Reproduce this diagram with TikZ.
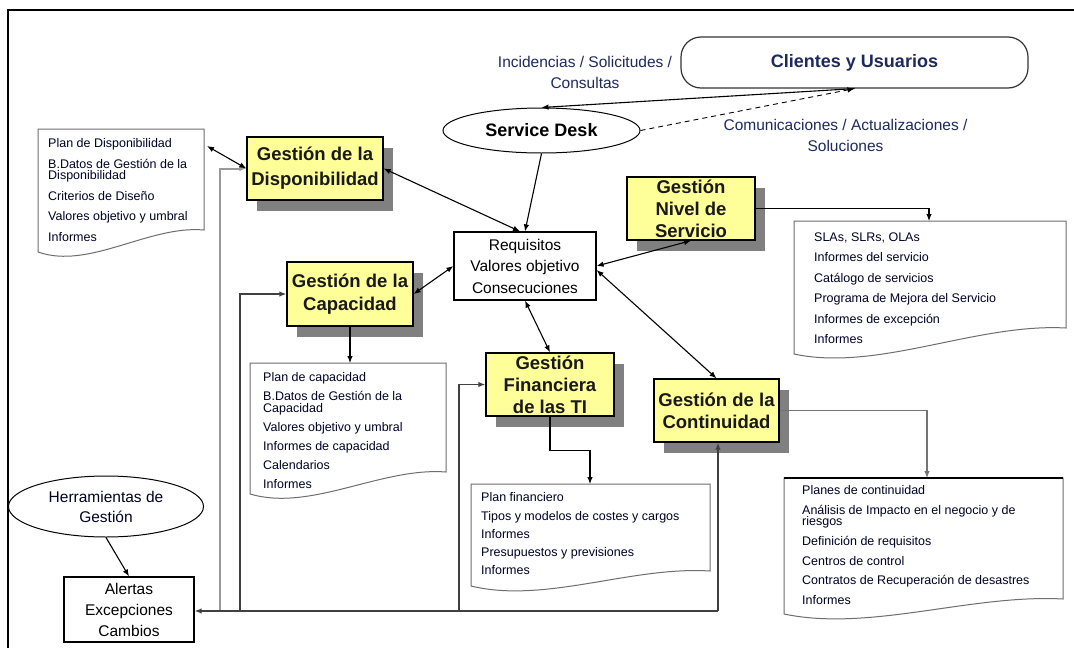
\documentclass[tikz,border=0pt]{standalone}
\usepackage{fontspec}
\setmainfont{Liberation Sans}
\usetikzlibrary{arrows.meta,shapes.geometric,shadows}

\definecolor{boxyellow}{HTML}{FFFF99}
\definecolor{shadowgray}{HTML}{808080}
\definecolor{inknavy}{HTML}{1E2A5E}
\definecolor{docgray}{HTML}{6E6E6E}

\newcommand\gestfont{\fontsize{18.5}{22}\selectfont\bfseries}
\newcommand\lblfont{\fontsize{15.5}{21}\selectfont}
\newcommand\listfont[1]{\fontsize{12.5}{#1}\selectfont\lineskiplimit=-40pt\relax}

\begin{document}
\begin{tikzpicture}[x=1pt,y=-1pt,
  >={Latex[length=7pt,width=5.5pt]},
  gbox/.style={draw=black, line width=1.3pt, fill=boxyellow, font=\gestfont,
    align=center, inner sep=0pt, text=black!90,
    drop shadow={shadow xshift=10pt,shadow yshift=-11pt,fill=shadowgray,opacity=1}},
  wbox/.style={draw=black, line width=1.2pt, fill=white, font=\lblfont,
    align=center, inner sep=0pt},
  oval/.style={ellipse, draw=black, line width=1pt, fill=white, inner sep=0pt, align=center},
  docshape/.style={draw=docgray, line width=1pt, fill=white},
  doctext/.style={anchor=north west, align=left, inner sep=0pt, text=black!85!blue},
  conn/.style={line width=1.1pt},
  bus/.style={line width=1.4pt, draw=black!75},
  lbl/.style={font=\lblfont, align=center, text=inknavy, inner sep=0pt}]

\useasboundingbox (0,0) rectangle (1074,648);
\fill[white] (0,0) rectangle (1074,648);
% outer frame
\draw[line width=2pt] (8,648) -- (8,10) -- (1074,10);

% ---------- document shapes ----------
\draw[docshape] (38,129) -- (204,129) -- (204,230)
  .. controls (149,225) and (89,270) .. (38,252) -- cycle;
\coordinate (dispTip) at (207,146);
\node[doctext, font=\listfont{20.5}] (disptext) at (48,138.5)
  {Plan de Disponibilidad\\B.Datos de Gestión de la\\[-9pt]Disponibilidad\\Criterios de Diseño\\Valores objetivo y umbral\\Informes};

\draw[docshape] (250,363) -- (446,363) -- (446,472)
  .. controls (381,467) and (311,512) .. (250,494) -- cycle;
\coordinate (capIn) at (350,363);
\node[doctext, font=\listfont{19}] (captext) at (263,372.5)
  {Plan de capacidad\\B.Datos de Gestión de la\\[-7.5pt]Capacidad\\Valores objetivo y umbral\\Informes de capacidad\\Calendarios\\Informes};

\draw[docshape] (794,221) -- (1066,221) -- (1066,328)
  .. controls (976,323) and (878,372) .. (794,354) -- cycle;
\coordinate (slaIn) at (929,221);
\node[doctext, font=\listfont{20.4}] (slatext) at (814,232.5)
  {SLAs, SLRs, OLAs\\Informes del servicio\\Catálogo de servicios\\Programa de Mejora del Servicio\\Informes de excepción\\Informes};

\draw[docshape] (471,484) -- (710,484) -- (710,571)
  .. controls (631,566) and (545,604) .. (471,586) -- cycle;
\coordinate (finIn) at (590,484);
\node[doctext, font=\listfont{18.3}] (fintext) at (481,492.5)
  {Plan financiero\\Tipos y modelos de costes y cargos\\Informes\\Presupuestos y previsiones\\Informes};

\draw[docshape] (784,478) -- (1063,478) -- (1063,599)
  .. controls (971,594) and (870,632) .. (784,614) -- cycle;
\draw[line width=2pt] (784,478) -- (1063,478);
\coordinate (contIn) at (927,478);
\node[doctext, font=\listfont{19.6}] (conttext) at (802,485.5)
  {Planes de continuidad\\Análisis de Impacto en el negocio y de\\[-8pt]riesgos\\Definición de requisitos\\Centros de control\\Contratos de Recuperación de desastres\\Informes};

% ---------- main nodes ----------
\node[draw=black!80, line width=1.2pt, rounded corners=20pt, minimum width=347pt,
  minimum height=51pt, inner sep=0pt, font=\fontsize{18}{22}\selectfont\bfseries,
  text=inknavy] (clientes) at (854.5,62.5) {Clientes y Usuarios};
\node[oval, minimum width=197pt, minimum height=45pt,
  font=\fontsize{18}{22}\selectfont\bfseries] (sd) at (541.5,130.5) {Service Desk};
\node[oval, minimum width=195pt, minimum height=61pt,
  font=\fontsize{15.5}{20}\selectfont, text=black!85!blue] (herr) at (106,506.5) {Herramientas de\\Gestión};

\node[lbl] (incid) at (585,72.5) {Incidencias / Solicitudes /\\Consultas};
\node[lbl] (comun) at (845.5,135.5) {Comunicaciones / Actualizaciones /\\Soluciones};

\node[wbox, minimum width=142pt, minimum height=68pt,
  font=\fontsize{15.5}{21.5}\selectfont] (req) at (525,266) {Requisitos\\Valores objetivo\\Consecuciones};
\node[wbox, minimum width=130pt, minimum height=65pt] (alertas) at (129,609.5)
  {Alertas\\Excepciones\\Cambios};

\node[gbox, minimum width=136pt, minimum height=63pt] (gd) at (315,168.5) {Gestión de la\\[3pt]Disponibilidad};
\node[gbox, minimum width=126pt, minimum height=64pt] (gc) at (350,294) {Gestión de la\\[1pt]Capacidad};
\node[gbox, minimum width=128pt, minimum height=63pt] (gns) at (691,208.5) {Gestión\\Nivel de\\Servicio};
\node[gbox, minimum width=128pt, minimum height=63pt] (gf) at (550,384.5) {Gestión\\Financiera\\de las TI};
\node[gbox, minimum width=125pt, minimum height=63pt] (gcont) at (716.5,410.5) {Gestión de la\\Continuidad};

% ---------- bus from Alertas ----------
\coordinate (bus1) at (220,611);
\coordinate (bus2) at (240,611);
\coordinate (bus3) at (459,611);
\coordinate (busR) at (718,611);
\draw[bus, draw=black!40, line width=2pt, ->] (bus1) |- (gd.west);
\draw[bus, ->] (bus2) |- (gc.west);
\draw[bus, ->] (bus3) |- (gf.west);
\draw[bus, ->] (busR) -- (busR |- gcont.south);
\draw[bus, ->] (busR) -- (busR -| alertas.east);

% ---------- connectors ----------
\draw[conn, ->] (clientes.south) -- (sd.north);
\draw[conn, ->, line width=0.9pt, dash pattern=on 5pt off 4pt] (sd.east) -- (clientes.south);
\draw[conn, ->] (sd.south) -- (req.north);
\draw[conn, <->] (gd.east) -- ([xshift=-5pt]req.north);
\draw[conn, <->] (dispTip) -- (gd.west);
\draw[conn, ->] (herr.south) -- (alertas.north);
\draw[conn, <->] (gc.east) -- (req.west);
\draw[conn, ->] (gc.south) -- (capIn);
\draw[conn, <->] (req.east) -- (gns.south);
\draw[conn, ->] (gns.east) -| (slaIn);
\draw[conn, <->] (req.south) -- (gf.north);
\draw[conn, <->] ([yshift=-4pt]req.east) -- (gcont.north);
\draw[conn, ->] (gf.south) -- ++(0,34) -| (finIn);
\draw[conn, ->, draw=black!55] (gcont.east) -| (contIn);
\end{tikzpicture}
\end{document}
